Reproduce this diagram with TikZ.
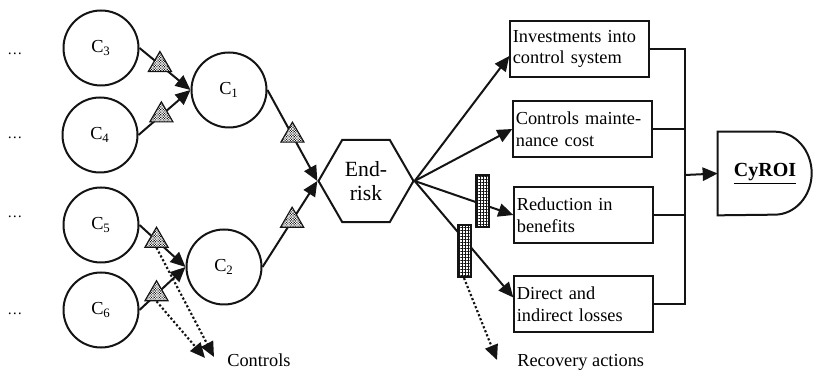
\documentclass[tikz,border=0pt]{standalone}
\usepackage{fontspec}
\setmainfont{Liberation Serif}
\usetikzlibrary{positioning,shapes.geometric,arrows.meta,patterns.meta,calc}
\definecolor{ink}{HTML}{141414}
\tikzset{
  >={Triangle[length=9pt,width=8pt]},
  every node/.style={font=\fontsize{11}{13}\selectfont},
  % --- nodes
  ctrl/.style = {circle, draw=ink, line width=1.2pt, minimum size=45pt, inner sep=0pt},
  tri/.style  = {regular polygon, regular polygon sides=3, draw=ink, line width=0.7pt,
                 minimum size=16pt, inner sep=0pt, preaction={fill=white},
                 pattern={Dots[distance=1.1pt,radius=0.45pt,angle=45]}, pattern color=ink},
  hexa/.style = {regular polygon, regular polygon sides=6, draw=ink, line width=1.2pt,
                 minimum size=57pt, inner sep=0pt, align=center,
                 font=\fontsize{13}{14}\selectfont},
  cost/.style = {rectangle, draw=ink, line width=1.2pt, minimum height=33.6pt,
                 text width=80pt, inner xsep=1.5pt, inner ysep=0pt, align=left},
  bar/.style  = {rectangle, draw=ink, line width=1.2pt, minimum width=7.8pt,
                 minimum height=31.2pt, inner sep=0pt, preaction={fill=white},
                 pattern={Hatch[distance=1.8pt,angle=0,line width=0.3pt]}, pattern color=ink},
  lbl/.style  = {inner sep=0pt},
  % --- edges
  e/.style    = {->, line width=1.2pt, draw=ink},
  ew/.style   = {line width=1.2pt, draw=ink},
  dotl/.style = {->, line width=1.3pt, draw=ink, dash pattern=on 1.3pt off 1.3pt},
}

\begin{document}
\begin{tikzpicture}[x=0.6pt, y=-0.6pt]
  \useasboundingbox (0,0) rectangle (813,374);
  % controls
  \node[ctrl] (c3) at (101,48)  {C\textsubscript{3}};
  \node[ctrl] (c4) at (100,135) {C\textsubscript{4}};
  \node[ctrl] (c5) at (101,225) {C\textsubscript{5}};
  \node[ctrl] (c6) at (101,310) {C\textsubscript{6}};
  \node[ctrl] (c1) at (229,90)  {C\textsubscript{1}};
  \node[ctrl] (c2) at (224,267) {C\textsubscript{2}};
  \foreach \y [count=\k] in {55,139,218,315}
    \node[lbl, anchor=base, font=\fontsize{9}{10}\selectfont] (dd\k) at (15,\y) {\dots};
  \node[hexa] (risk) at (366,181) {End-\\risk};
  % cost items
  \node[cost] (inv)  at (579.5,49)  {Investments into\\control system};
  \node[cost] (mnt)  at (582.5,129) {Controls mainte-\\nance cost};
  \node[cost] (red)  at (583.5,215) {Reduction in\\benefits};
  \node[cost] (loss) at (583.5,304.5) {Direct and\\indirect losses};
  \node[minimum width=56.4pt, minimum height=49.8pt, inner sep=0pt] (roi) at (765,173.5)
    {\fontsize{12}{14}\selectfont\bfseries\underline{CyROI}};
  \draw[ew] (roi.north west) -- ++(57,0)
    arc[start angle=90, end angle=-90, x radius=22.2pt, y radius=24.9pt]
    -- (roi.south west) -- cycle;
  % edges with controls
  \draw[e] (c3.east) -- node[tri,pos=.4]  (t3) {} (c1.west);
  \draw[e] (c4.east) -- node[tri,pos=.44] (t4) {} (c1.west);
  \draw[e] (c5.east) -- node[tri,pos=.37] (t5) {} (c2.west);
  \draw[e] (c6.east) -- node[tri,pos=.37] (t6) {} (c2.west);
  \draw[e] (c1.east) -- node[tri,pos=.5]  (t1) {} (risk.west);
  \draw[e] (c2.east) -- node[tri,pos=.54] (t2) {} (risk.west);
  % consequences
  \draw[e] (risk.east) -- ($(inv.west)+(0,7)$);
  \draw[e] (risk.east) -- (mnt.west);
  \draw[e] (risk.east) -- (red.west);
  \draw[e] (risk.east) -- ($(loss.west)+(0,-7)$);
  \node[bar] (b1) at (482,201) {};
  \node[bar] (b2) at (464,251) {};
  % dotted hints
  \coordinate (ctla) at (214,357);
  \coordinate (ctlb) at (205,358);
  \draw[dotl] (t5.south) -- (ctla);
  \draw[dotl] (t6.south) -- (ctlb);
  \node[lbl, anchor=base west] (ctltxt) at (227,367) {Controls};
  \coordinate (rca) at (497,360);
  \draw[dotl] (b2.south) -- (rca);
  \node[lbl, anchor=base west] (rcvtxt) at (517,367) {Recovery actions};
  % sum into CyROI
  \coordinate (jn) at (685,175);
  \foreach \b in {inv,mnt,red,loss}
    \draw[ew] (\b.east) -| (jn);
  \draw[e] (jn) -- (roi.west);
\end{tikzpicture}
\end{document}
